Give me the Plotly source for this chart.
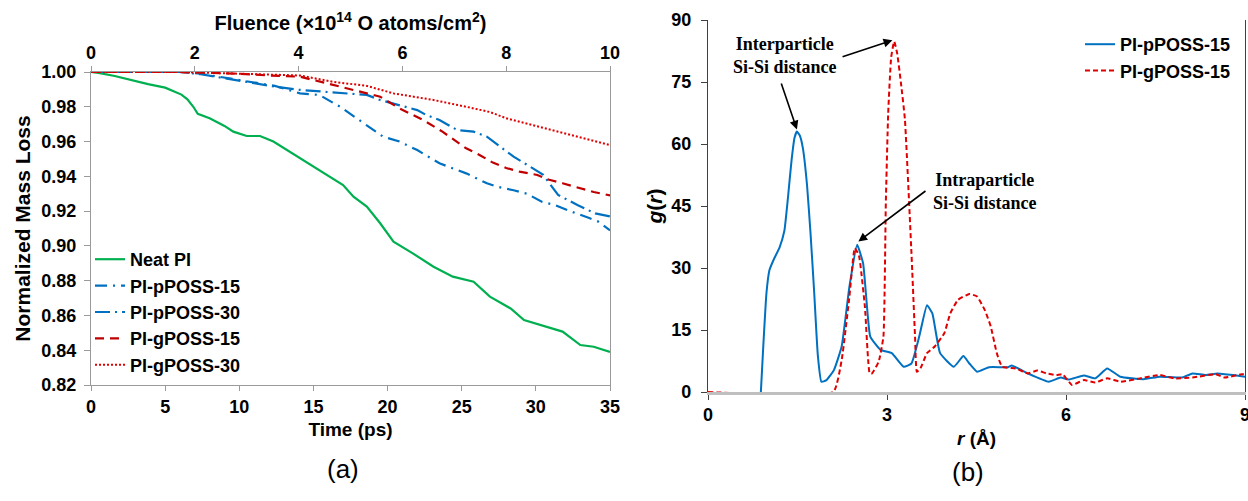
import plotly.graph_objects as go

# ---------------- data: panel (a) ----------------
t_neat = [0, 0.5, 1.6, 2.5, 3.85, 5.0, 6.1, 6.5, 6.9, 7.2, 8.0, 9.0, 9.6, 10.5, 11.4, 12.3, 13.6, 14.5, 15.5,
          17.0, 17.7, 18.6, 19.5, 20.4, 21.7, 23.1, 24.4, 25.8, 26.9, 28.3, 29.2, 30.7, 31.8, 33.0, 33.9, 35]
v_neat = [1.000, 0.9995, 0.9977, 0.9958, 0.993, 0.991, 0.987, 0.9843, 0.980, 0.976, 0.9734, 0.969, 0.9657,
          0.9632, 0.9632, 0.960, 0.9532, 0.9484, 0.943, 0.935, 0.9283, 0.9226, 0.913, 0.9024, 0.8957, 0.888,
          0.8823, 0.8794, 0.8708, 0.864, 0.8574, 0.8535, 0.8507, 0.843, 0.842, 0.839]

t_p15 = [0, 6, 7.4, 9.2, 11.5, 12.4, 14.1, 15.4, 16.8, 18.1, 19.7, 20.8, 22.0, 23.5, 25.3, 26.7, 27.4, 28.5,
         29.4, 30.4, 31.3, 32.3, 33.1, 33.6, 34.2, 35]
v_p15 = [1.000, 1.000, 0.999, 0.9965, 0.9935, 0.992, 0.9877, 0.9868, 0.980, 0.9724, 0.9628, 0.960, 0.9551,
         0.9475, 0.9417, 0.936, 0.934, 0.932, 0.930, 0.9254, 0.9235, 0.920, 0.9178, 0.916, 0.914, 0.909]

t_p30 = [0, 6, 7.4, 9.2, 11.5, 12.4, 14.1, 15.5, 18.6, 19.5, 20.8, 22.0, 22.6, 23.5, 24.7, 25.8, 26.7, 27.6,
         28.5, 29.8, 30.5, 31.5, 32.8, 34.0, 35]
v_p30 = [1.000, 1.000, 0.9987, 0.9962, 0.993, 0.9916, 0.9897, 0.9887, 0.9868, 0.9839, 0.981, 0.9781, 0.9753,
         0.9724, 0.9666, 0.9657, 0.9628, 0.957, 0.9513, 0.9446, 0.9408, 0.9293, 0.9235, 0.9187, 0.917]

t_g15 = [0, 6, 8, 10, 12, 14.1, 15.9, 18.1, 19.5, 20.8, 22.4, 23.7, 25.3, 26.2, 27.1, 28.0, 28.9, 30.1, 30.9,
         31.8, 33.0, 33.9, 35]
v_g15 = [1.000, 1.000, 0.9995, 0.999, 0.998, 0.9973, 0.9935, 0.9887, 0.9858, 0.9791, 0.9724, 0.9657, 0.9561,
         0.9523, 0.9479, 0.9448, 0.9427, 0.9408, 0.938, 0.936, 0.933, 0.931, 0.929]

t_g30 = [0, 6, 8, 10, 12, 14.1, 16.3, 18.6, 20.4, 23.1, 25.3, 26.9, 28.0, 29.8, 32.1, 35]
v_g30 = [1.000, 1.000, 0.9995, 0.999, 0.9988, 0.998, 0.9944, 0.992, 0.9877, 0.9839, 0.980, 0.977, 0.9734,
         0.9695, 0.9647, 0.958]

fluence_range = [0, 10]

# ---------------- data: panel (b) ----------------
r_pposs = [0.886, 0.93, 0.98, 1.03, 1.10, 1.20, 1.28, 1.34, 1.40, 1.45, 1.49, 1.54, 1.59, 1.66, 1.72, 1.78,
           1.84, 1.90, 1.98, 2.11, 2.24, 2.37, 2.50, 2.60, 2.66, 2.72, 2.89, 3.08, 3.28, 3.41, 3.54, 3.67, 3.76,
           3.89, 4.12, 4.28, 4.38, 4.51, 4.71, 5.03, 5.09, 5.36, 5.71, 5.91, 6.04, 6.30, 6.49, 6.69, 6.91, 7.30,
           7.57, 7.95, 8.12, 8.34, 8.54, 8.80, 9.0]
g_pposs = [0, 12, 24, 29.5, 32, 35, 39, 47, 56, 61.5, 63.0, 62, 59, 50, 38, 24,
           9, 2.5, 2.8, 5.3, 11.0, 25.5, 35.6, 31.1, 21.5, 13.4, 10.2, 9.4, 6.1, 6.9, 13.4, 21.0, 19.0,
           9.4, 6.1, 8.7, 6.9, 4.9, 6.0, 6.0, 6.4, 4.5, 2.5, 3.5, 3.0, 4.0, 3.3, 5.7, 3.7, 3.1,
           3.7, 3.5, 4.5, 4.1, 4.5, 4.1, 3.7]

r_gposs = [0, 2.10, 2.24, 2.37, 2.46, 2.53, 2.63, 2.71, 2.75, 2.86, 2.94, 2.98, 3.02, 3.07, 3.12, 3.17, 3.24,
           3.30, 3.41, 3.47, 3.50, 3.56, 3.67, 3.80, 3.96, 4.06, 4.19, 4.38, 4.51, 4.64, 4.74, 4.84, 4.93, 5.16,
           5.36, 5.52, 5.67, 5.84, 5.94, 6.10, 6.30, 6.49, 6.69, 6.91, 7.24, 7.57, 7.82, 8.12, 8.51, 8.66, 8.94,
           9.0]
g_gposs = [0, 0, 7.7, 23.1, 34.8, 33, 20.6, 4.5, 4.5, 7.3, 13.4, 45.6, 67.5, 81, 84.8, 82, 74,
           66, 33.6, 13.4, 4.9, 5.7, 9.4, 11.0, 14.2, 19, 22.3, 23.7, 23.1, 19.8, 15.8, 9.4, 6.1, 5.7,
           4.5, 5.2, 4.5, 4.1, 4.3, 1.7, 2.9, 2.3, 3.3, 2.5, 3.3, 4.1, 3.3, 3.5, 4.3, 3.5, 4.3,
           4.3]

# ---------------- styling ----------------
W, H = 1248, 501
SANS = "Liberation Sans, Arial, sans-serif"
SERIF = "Liberation Serif, Times New Roman, serif"
GREEN, BLUE, DRED, RED = "#00B050", "#0070C0", "#C00000", "#E00000"
BLACK = "#000000"


def fx(p):
    return p / W


def fy(p):
    return 1 - p / H


def bfont(size):
    return dict(family=SANS, size=size, color=BLACK, weight="bold")


fig = go.Figure()

# panel (a)
fig.add_trace(go.Scatter(x=t_neat, y=v_neat, name="Neat PI", mode="lines",
                         line=dict(color=GREEN, width=2.2), legendgroup="a1", legend="legend"))
fig.add_trace(go.Scatter(x=t_p15, y=v_p15, name="PI-pPOSS-15", mode="lines",
                         line=dict(color=BLUE, width=2.2, dash="12px,6px,2px,6px"), legendgroup="a2",
                         legend="legend"))
fig.add_trace(go.Scatter(x=t_p30, y=v_p30, name="PI-pPOSS-30", mode="lines",
                         line=dict(color=BLUE, width=2.2, dash="15px,5px,2px,5px"), legendgroup="a3",
                         legend="legend"))
fig.add_trace(go.Scatter(x=t_g15, y=v_g15, name="PI-gPOSS-15", mode="lines",
                         line=dict(color=DRED, width=2.2, dash="9px,6px"), legendgroup="a4", legend="legend"))
fig.add_trace(go.Scatter(x=t_g30, y=v_g30, name="PI-gPOSS-30", mode="lines",
                         line=dict(color=RED, width=2.0, dash="2px,2px"), legendgroup="a5", legend="legend"))
# carrier for the top (fluence) axis
fig.add_trace(go.Scatter(x=fluence_range, y=[1.0, 1.0], xaxis="x2", yaxis="y", mode="lines",
                         line=dict(width=0, color="rgba(0,0,0,0)"), showlegend=False, hoverinfo="skip"))

# panel (b)
fig.add_trace(go.Scatter(x=r_pposs, y=g_pposs, name="PI-pPOSS-15", mode="lines", xaxis="x3", yaxis="y3",
                         line=dict(color=BLUE, width=2, shape="spline", smoothing=0.4),
                         legend="legend2", legendgroup="b1"))
fig.add_trace(go.Scatter(x=r_gposs, y=g_gposs, name="PI-gPOSS-15", mode="lines", xaxis="x3", yaxis="y3",
                         line=dict(color=RED, width=2, dash="5px,3px", shape="spline", smoothing=0.4),
                         legend="legend2", legendgroup="b2"))

axis_common = dict(showgrid=False, zeroline=False, automargin=False, ticks="outside",
                   tickfont=bfont(18), color=BLACK)

fig.update_layout(
    width=W, height=H, margin=dict(l=0, r=0, t=0, b=0),
    paper_bgcolor="white", plot_bgcolor="white", template=None,
    font=dict(family=SANS, color=BLACK),
    showlegend=True,
    xaxis=dict(domain=[fx(91), fx(610)], anchor="y", range=[0, 35], dtick=5, tick0=0,
               showline=True, linecolor="#9a9a9a", linewidth=1.3, ticklen=5, tickcolor="#9a9a9a",
               title=dict(text="Time (ps)", font=bfont(19), standoff=6),
               **axis_common),
    xaxis2=dict(overlaying="x", side="top", anchor="y", range=[0, 10], dtick=2, tick0=0,
                showline=True, linecolor="#9a9a9a", linewidth=1.3, ticklen=5, tickcolor="#9a9a9a",
                title=dict(text="Fluence (×10<sup>14</sup> O atoms/cm<sup>2</sup>)", font=bfont(20), standoff=6),
                **axis_common),
    yaxis=dict(domain=[fy(385), fy(72)], anchor="x", range=[0.82, 1.0], dtick=0.02, tick0=0.82,
               tickformat=".2f", showline=True, mirror=True, linecolor="#9a9a9a", linewidth=1.3,
               ticklen=6, tickcolor="#9a9a9a", ticklabelstandoff=4,
               title=dict(text="Normalized Mass Loss", font=bfont(21), standoff=4),
               **axis_common),
    xaxis3=dict(domain=[fx(708), fx(1245)], anchor="y3", range=[0, 9], dtick=3, tick0=0,
                showline=True, linecolor="#bfbfbf", linewidth=2.5, ticklen=5, tickcolor="#404040",
                layer="below traces", ticklabeloverflow="allow",
                title=dict(text="<i>r</i> (Å)", font=bfont(19), standoff=8),
                **axis_common),
    yaxis3=dict(domain=[fy(392), fy(20)], anchor="x3", range=[0, 90], dtick=15, tick0=0,
                showline=True, mirror=True, linecolor="#404040", linewidth=1.2, ticklen=6,
                tickcolor="#404040", ticklabelstandoff=6, layer="below traces",
                title=dict(text="<i>g</i>(<i>r</i>)", font=bfont(21), standoff=2),
                **axis_common),
    legend=dict(x=fx(90), y=fy(241), xanchor="left", yanchor="top", bgcolor="rgba(0,0,0,0)",
                font=bfont(18), traceorder="grouped", tracegroupgap=0, itemwidth=30),
    legend2=dict(x=fx(1080), y=fy(26), xanchor="left", yanchor="top", bgcolor="rgba(0,0,0,0)",
                 font=bfont(18), traceorder="grouped", tracegroupgap=0, itemwidth=30),
)

# annotations: arrows computed from data peaks
ib = max(range(len(g_pposs)), key=lambda i: g_pposs[i])
ir = max(range(len(g_gposs)), key=lambda i: g_gposs[i])
sec = [i for i in range(len(r_pposs)) if 2.2 <= r_pposs[i] <= 2.8]
i2 = max(sec, key=lambda i: g_pposs[i])

arrow = dict(xref="x3", yref="y3", axref="x3", ayref="y3", text="", showarrow=True,
             arrowhead=2, arrowsize=1.1, arrowwidth=1.6, arrowcolor="#000")
fig.add_annotation(x=r_pposs[ib], y=g_pposs[ib] + 0.5, ax=1.22, ay=75.0, **arrow)
fig.add_annotation(x=r_gposs[ir] - 0.03, y=g_gposs[ir] + 0.3, ax=2.23, ay=81.0, **arrow)
fig.add_annotation(x=r_pposs[i2] + 0.02, y=g_pposs[i2] + 0.8, ax=3.67, ay=48.9, **arrow)

serif_b = dict(family=SERIF, size=18, color=BLACK, weight="bold")
fig.add_annotation(x=1.29, y=81.3, xref="x3", yref="y3", text="Interparticle<br>Si-Si distance",
                   showarrow=False, font=serif_b, align="center")
fig.add_annotation(x=4.64, y=48.6, xref="x3", yref="y3", text="Intraparticle<br>Si-Si distance",
                   showarrow=False, font=serif_b, align="center")

fig.add_annotation(x=fx(325), y=fy(486), xref="paper", yref="paper", text="(a)", showarrow=False,
                   font=dict(family=SANS, size=26, color=BLACK))
fig.add_annotation(x=fx(986), y=fy(489), xref="paper", yref="paper", text="(b)", showarrow=False,
                   font=dict(family=SANS, size=26, color=BLACK))

fig.write_html("out.html")
